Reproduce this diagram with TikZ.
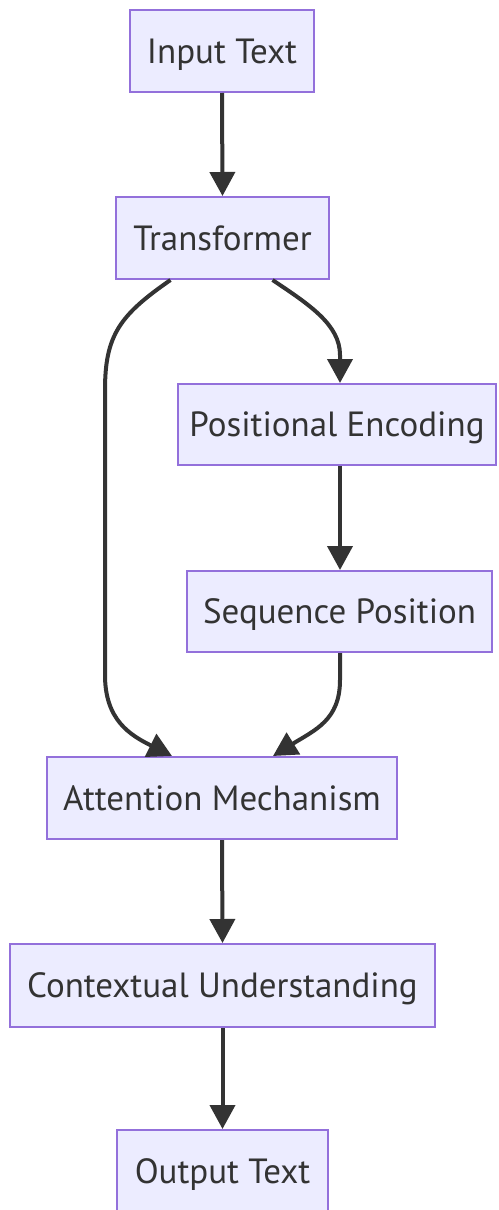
\documentclass[tikz,border=0pt]{standalone}
\usepackage{fontspec}
\setmainfont{PT Sans}
\usetikzlibrary{arrows.meta}
\definecolor{boxfill}{HTML}{ECECFF}
\definecolor{boxline}{HTML}{9370DB}
\definecolor{ink}{HTML}{333333}
\tikzset{
  box/.style={draw=boxline, fill=boxfill, line width=2pt, rectangle,
    inner sep=0pt, text=ink, font=\fontsize{35}{42}\selectfont,
    text height=24.5pt, text depth=0pt},
  flow/.style={draw=ink, line width=4pt,
    -{Triangle[length=24pt,width=25pt]}},
}
\begin{document}
\begin{tikzpicture}[x=1pt,y=-1pt]
\useasboundingbox (0,0) rectangle (498,1210);
\node[box, minimum width=184pt, minimum height=82pt] (in) at (222,51) {Input Text};
\node[box, minimum width=213pt, minimum height=82pt] (tr) at (222.5,238) {Transformer};
\node[box, minimum width=318pt, minimum height=81pt] (pe) at (337,424.5) {Positional Encoding};
\node[box, minimum width=305pt, minimum height=81pt] (sp) at (339.5,611.5) {Sequence Position};
\node[box, minimum width=350pt, minimum height=82pt] (am) at (222,798) {Attention Mechanism};
\node[box, minimum width=425pt, minimum height=83pt] (cu) at (222.5,985.5) {Contextual Understanding};
\node[box, minimum width=211pt, minimum height=82pt] (ot) at (222.5,1171) {Output Text};

\draw[flow] (in.south) -- (tr.north);
\draw[flow] ([xshift=50pt]tr.south) .. controls (310,305) and (340,325) .. (340,355) -- (pe.north -| 340,0);
\draw[flow] ([xshift=-52pt]tr.south) .. controls (120,315) and (105,335) .. (105,390)
  -- (105,675) .. controls (105,720) and (130,735) .. ([xshift=-50pt]am.north);
\draw[flow] (pe.south -| 340,0) -- (sp.north -| 340,0);
\draw[flow] (sp.south -| 340,0) -- (340,680) .. controls (340,720) and (315,730) .. ([xshift=51pt]am.north);
\draw[flow] (am.south) -- (cu.north);
\draw[flow] (cu.south) -- (ot.north);
\end{tikzpicture}
\end{document}
